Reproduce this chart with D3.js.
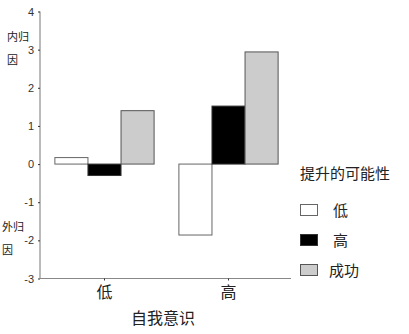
<!DOCTYPE html>
<html lang="zh">
<head>
    <meta charset="UTF-8">
    <title>自我意识</title>
    <style>
        body { margin: 0; background: #fff; }
        text { font-family: "Noto Sans CJK SC", "Liberation Sans", sans-serif; fill: #222; }
    </style>
</head>
<body>
    <div id="chart"></div>
    <script src="https://d3js.org/d3.v7.min.js"></script>
    <script>
        // data
        var groups = ["低", "高"];
        var series = ["低", "高", "成功"];
        var valsLow = [0.17, -0.3, 1.4];
        var valsHigh = [-1.86, 1.52, 2.94];
        var yTicks = [-3, -2, -1, 0, 1, 2, 3, 4];
        var colors = ["#ffffff", "#000000", "#cccccc"];
        var strokes = ["#666666", "#333333", "#555555"];

        var W = 409, H = 334;
        var svg = d3.select("#chart").append("svg")
            .attr("width", W).attr("height", H);

        var y = d3.scaleLinear().domain([-3, 4]).range([278.5, 11.5]);
        var x = d3.scaleBand().domain(groups).range([40, 293]).paddingInner(0.2).paddingOuter(0.12);
        var xs = d3.scaleBand().domain(series).range([0, x.bandwidth()]);

        var rows = [valsLow, valsHigh];

        // bars
        groups.forEach(function (g, gi) {
            series.forEach(function (s, si) {
                var v = rows[gi][si];
                svg.append("rect")
                    .attr("x", x(g) + xs(s))
                    .attr("y", y(Math.max(0, v)))
                    .attr("width", xs.bandwidth())
                    .attr("height", Math.abs(y(v) - y(0)))
                    .attr("fill", colors[si])
                    .attr("stroke", strokes[si])
                    .attr("stroke-width", 1);
            });
        });

        // y axis
        var yAxis = d3.axisLeft(y).tickValues(yTicks).tickSize(2).tickPadding(4)
            .tickFormat(function (d) { return String(d); });
        var gy = svg.append("g").attr("transform", "translate(40,0)").call(yAxis);
        gy.select(".domain").attr("stroke", "#777").attr("d", "M0,11.5V278.5");
        gy.selectAll(".tick line").attr("stroke", "#333");
        gy.selectAll(".tick text").style("font-size", "11px").style("font-family", "Liberation Sans, sans-serif").style("fill", "#333");

        // x axis
        var xAxis = d3.axisBottom(x).tickSize(2).tickPadding(6);
        var gx = svg.append("g").attr("transform", "translate(0,278.5)").call(xAxis);
        gx.select(".domain").attr("stroke", "#888").attr("d", "M40,0H291");
        gx.selectAll(".tick line").attr("stroke", "#333");
        gx.selectAll(".tick text").style("font-size", "16px").style("fill", "#222");

        // side labels
        svg.append("text").attr("x", 7).attr("y", 41).style("font-size", "11px").text("内归");
        svg.append("text").attr("x", 7).attr("y", 64).style("font-size", "11px").text("因");
        svg.append("text").attr("x", 2).attr("y", 231).style("font-size", "11px").text("外归");
        svg.append("text").attr("x", 2).attr("y", 254).style("font-size", "11px").text("因");

        // x title
        svg.append("text").attr("x", 163).attr("y", 324)
            .attr("text-anchor", "middle").style("font-size", "16px").text("自我意识");

        // legend
        var leg = svg.append("g").attr("transform", "translate(300,0)");
        leg.append("text").attr("x", 0).attr("y", 179).style("font-size", "15px").text("提升的可能性");
        series.forEach(function (s, i) {
            var yy = 204 + i * 30;
            leg.append("rect").attr("x", 0.5).attr("y", yy + 0.5)
                .attr("width", 17).attr("height", 11)
                .attr("fill", colors[i]).attr("stroke", strokes[i]);
            leg.append("text").attr("x", s === "成功" ? 29 : 33).attr("y", yy + 12)
                .style("font-size", "15px").text(s);
        });
    </script>
</body>
</html>
